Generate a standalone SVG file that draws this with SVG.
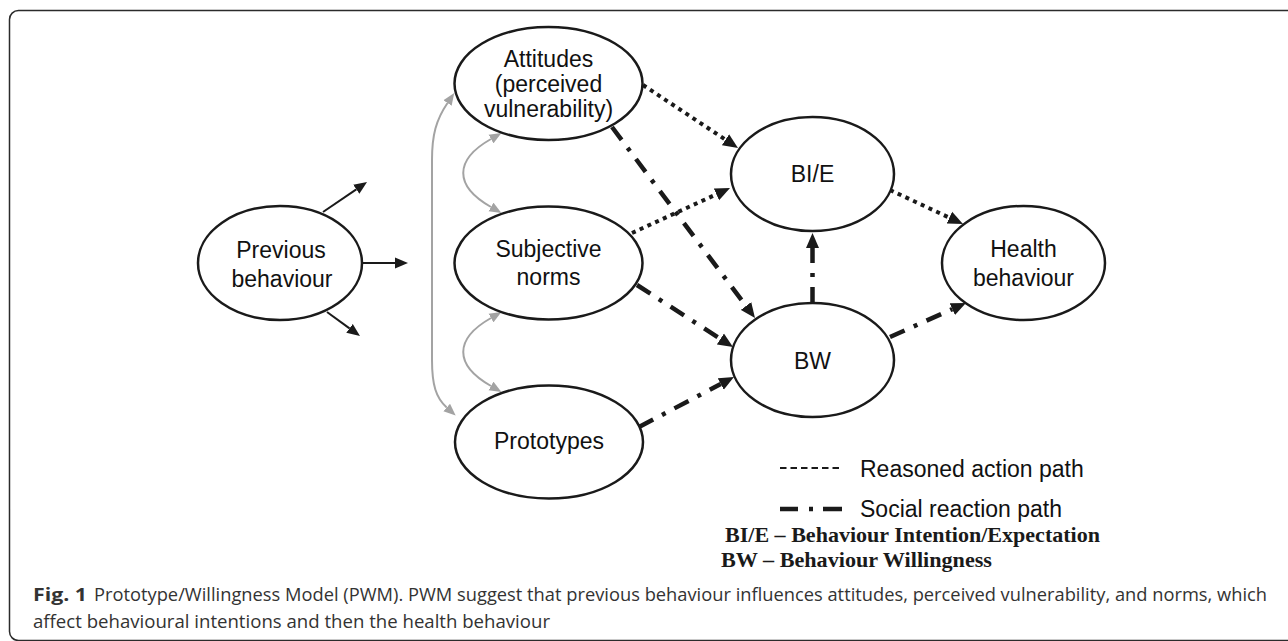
<svg xmlns="http://www.w3.org/2000/svg" width="1288" height="641" viewBox="0 0 1288 641">
<style>
.node ellipse{fill:#fff;stroke:#1a1a1a;stroke-width:2.5}
.lbl{font-family:"Liberation Sans",Arial,Helvetica,sans-serif;font-size:23px;fill:#111;text-anchor:middle}
.solid{fill:none;stroke:#1a1a1a;stroke-width:2}
.gray{fill:none;stroke:#a3a3a3;stroke-width:2}
.dot{fill:none;stroke:#1a1a1a;stroke-width:4;stroke-dasharray:4 4.5}
.dd{fill:none;stroke:#1a1a1a;stroke-width:4.5;stroke-dasharray:16 10 4 10}
.leg{font-family:"Liberation Sans",Arial,Helvetica,sans-serif;font-size:23px;fill:#111}
.abbr{font-family:"Liberation Serif","Times New Roman",serif;font-size:22px;font-weight:bold;fill:#1a1a1a}
.cap{font-family:"Open Sans","Noto Sans",sans-serif;font-size:18px;fill:#333}
</style>
<defs>
<marker id="ahB" viewBox="0 -7 15 14" refX="0" refY="0" markerWidth="15" markerHeight="14" markerUnits="userSpaceOnUse" orient="auto"><path d="M0,-6.5 L15,0 L0,6.5 z" fill="#1a1a1a"/></marker>
<marker id="ahT" viewBox="0 -6 13 12" refX="0" refY="0" markerWidth="13" markerHeight="12" markerUnits="userSpaceOnUse" orient="auto"><path d="M0,-5.5 L13,0 L0,5.5 z" fill="#1a1a1a"/></marker>
<marker id="ahG" viewBox="0 -5.5 12 11" refX="0" refY="0" markerWidth="12" markerHeight="11" markerUnits="userSpaceOnUse" orient="auto-start-reverse"><path d="M0,-5 L12,0 L0,5 z" fill="#a3a3a3"/></marker>
</defs>
<rect x="9.5" y="10.5" width="1300" height="630" rx="9" fill="none" stroke="#2b2b2b" stroke-width="1.5"/>
<g id="connectors">
<path class="solid" d="M323,212 L356.3,189.3" marker-end="url(#ahT)"/>
<path class="solid" d="M363,263 L395,263" marker-end="url(#ahT)"/>
<path class="solid" d="M327,312 L349.5,328.4" marker-end="url(#ahT)"/>
<path class="gray" d="M447.5,103 C436,120 432,135 432,160 L432,360 C432,385 436,398 446.7,407.5" marker-start="url(#ahG)" marker-end="url(#ahG)"/>
<path class="gray" d="M491,139 C454,160 454,186 491,207" marker-start="url(#ahG)" marker-end="url(#ahG)"/>
<path class="gray" d="M491,318 C454,339 454,365 491,386" marker-start="url(#ahG)" marker-end="url(#ahG)"/>
<path class="dot" d="M643,85 L725.5,139.7" marker-end="url(#ahB)"/>
<path class="dot" d="M632,233 L716.4,194.3" marker-end="url(#ahB)"/>
<path class="dot" d="M890,190 L949.4,217.7" marker-end="url(#ahB)"/>
<path class="dd" d="M612,127 L746,306" marker-end="url(#ahB)"/>
<path class="dd" d="M637,285 L720.4,338.9" marker-end="url(#ahB)"/>
<path class="dd" d="M639,427 L720.7,384" marker-end="url(#ahB)"/>
<path class="dd" d="M812.5,303 L812.5,248" marker-end="url(#ahB)"/>
<path class="dd" d="M890,337 L952.3,309.1" marker-end="url(#ahB)"/>
</g>
<g id="node-previous" class="node"><ellipse cx="280" cy="263" rx="82" ry="57"/><text class="lbl" x="281" y="258">Previous</text><text class="lbl" x="282" y="287">behaviour</text></g>
<g id="node-attitudes" class="node"><ellipse cx="548.5" cy="83.5" rx="94" ry="56.5"/><text class="lbl" x="548.5" y="67">Attitudes</text><text class="lbl" x="548.5" y="92">(perceived</text><text class="lbl" x="548.5" y="117">vulnerability)</text></g>
<g id="node-subjective" class="node"><ellipse cx="548.5" cy="263" rx="94" ry="56.5"/><text class="lbl" x="548.5" y="257">Subjective</text><text class="lbl" x="548.5" y="285">norms</text></g>
<g id="node-prototypes" class="node"><ellipse cx="549" cy="442" rx="94" ry="56.5"/><text class="lbl" x="549" y="449">Prototypes</text></g>
<g id="node-bie" class="node"><ellipse cx="812.5" cy="174" rx="81.5" ry="57"/><text class="lbl" x="812.5" y="182">BI/E</text></g>
<g id="node-bw" class="node"><ellipse cx="812.5" cy="360" rx="81.5" ry="57"/><text class="lbl" x="812.5" y="369">BW</text></g>
<g id="node-health" class="node"><ellipse cx="1023.5" cy="263" rx="81.5" ry="57"/><text class="lbl" x="1023.5" y="257">Health</text><text class="lbl" x="1023.5" y="286">behaviour</text></g>
<g id="legend">
<line x1="780" y1="468" x2="842" y2="468" stroke="#1a1a1a" stroke-width="2" stroke-dasharray="6.5 4"/>
<text class="leg" x="860" y="477">Reasoned action path</text>
<line x1="780" y1="509" x2="842" y2="509" stroke="#1a1a1a" stroke-width="4.5" stroke-dasharray="18 11 4 10 19"/>
<text class="leg" x="860" y="517">Social reaction path</text>
<text class="abbr" x="725" y="542" textLength="375" lengthAdjust="spacingAndGlyphs">BI/E – Behaviour Intention/Expectation</text>
<text class="abbr" x="721" y="567" textLength="271" lengthAdjust="spacingAndGlyphs">BW – Behaviour Willingness</text>
</g>
<g id="caption">
<text class="cap" x="33" y="601" font-weight="bold" textLength="54" lengthAdjust="spacingAndGlyphs">Fig. 1</text>
<text class="cap" x="94" y="601" textLength="1173" lengthAdjust="spacingAndGlyphs">Prototype/Willingness Model (PWM). PWM suggest that previous behaviour influences attitudes, perceived vulnerability, and norms, which</text>
<text class="cap" x="33" y="628" textLength="517" lengthAdjust="spacingAndGlyphs">affect behavioural intentions and then the health behaviour</text>
</g>
</svg>
